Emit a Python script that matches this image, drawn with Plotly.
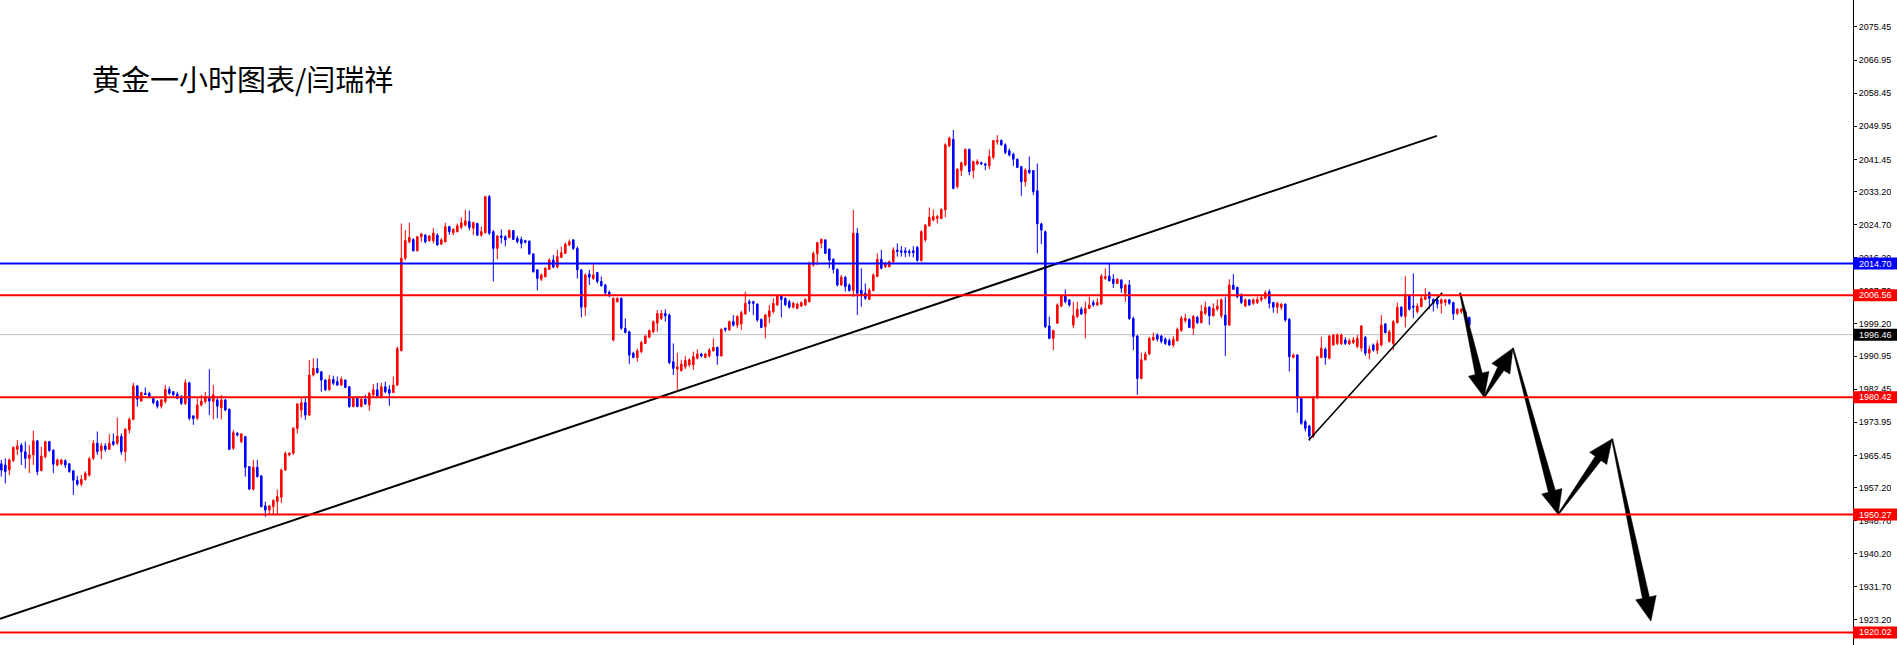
import math
import plotly.graph_objects as go

title_text = "黄金一小时图表/闫瑞祥"

opens = [
    1963.3, 1963.0, 1961.7, 1964.1, 1967.0, 1968.1, 1966.4, 1964.7, 1965.6, 1969.2,
    1961.6, 1965.1, 1969.0, 1966.8, 1963.0, 1963.3, 1964.1, 1963.3, 1961.5, 1959.1,
    1958.1, 1959.3, 1960.4, 1964.7, 1968.6, 1966.7, 1967.9, 1967.0, 1969.0, 1968.6,
    1970.3, 1966.4, 1972.0, 1974.7, 1983.3, 1979.4, 1981.4, 1981.4, 1980.1, 1979.3,
    1978.1, 1979.3, 1982.4, 1981.8, 1981.2, 1980.4, 1978.8, 1984.1, 1975.6, 1975.0,
    1978.4, 1979.3, 1980.1, 1979.3, 1979.7, 1977.7, 1979.7, 1977.3, 1967.3, 1971.1,
    1969.0, 1970.3, 1962.6, 1956.8, 1962.4, 1960.2, 1952.5, 1951.4, 1952.3, 1953.6,
    1954.7, 1961.7, 1965.6, 1966.0, 1972.4, 1977.1, 1979.0, 1975.8, 1986.1, 1987.8,
    1986.9, 1984.8, 1982.3, 1985.0, 1984.4, 1983.5, 1984.8, 1983.1, 1978.0, 1980.1,
    1978.0, 1979.9, 1978.4, 1981.0, 1982.3, 1980.5, 1983.1, 1982.4, 1981.6, 1983.5,
    1992.3, 2016.1, 2020.3, 2020.9, 2018.0, 2021.6, 2022.0, 2020.6, 2020.6, 2022.0,
    2019.7, 2020.3, 2024.2, 2022.6, 2022.9, 2024.0, 2024.6, 2025.5, 2023.8, 2025.0,
    2022.0, 2022.6, 2031.9, 2022.9, 2018.6, 2021.8, 2021.6, 2021.4, 2023.2, 2021.2,
    2020.9, 2020.6, 2020.5, 2017.2, 2013.1, 2010.7, 2011.3, 2013.2, 2015.6, 2013.8,
    2016.3, 2017.3, 2019.5, 2020.8, 2018.6, 2013.1, 2003.5, 2012.0, 2010.9, 2012.4,
    2010.1, 2009.2, 2007.4, 1995.1, 2004.9, 2005.8, 1998.1, 1997.2, 1991.7, 1990.6,
    1992.1, 1994.2, 1995.8, 1997.2, 1999.4, 2000.6, 2001.9, 2001.5, 1989.5, 1987.6,
    1987.2, 1988.2, 1988.7, 1988.7, 1990.4, 1991.5, 1990.6, 1991.0, 1992.3, 1993.2,
    1991.0, 1998.1, 1997.7, 1999.8, 1998.9, 1999.2, 2001.8, 2004.9, 2004.9, 2004.3,
    2000.4, 1998.5, 2001.1, 2002.4, 2004.1, 2006.4, 2005.8, 2004.9, 2003.5, 2003.2,
    2003.8, 2004.1, 2004.9, 2014.3, 2017.2, 2019.9, 2020.8, 2018.4, 2015.8, 2013.2,
    2009.2, 2011.2, 2009.2, 2007.8, 2022.5, 2007.9, 2007.1, 2005.5, 2007.8, 2011.4,
    2015.8, 2013.9, 2013.9, 2015.2, 2018.2, 2018.0, 2018.0, 2017.8, 2018.0, 2018.9,
    2015.5, 2020.8, 2024.4, 2025.9, 2026.3, 2026.3, 2028.5, 2044.9, 2046.6, 2034.5,
    2038.6, 2040.0, 2044.0, 2038.6, 2040.3, 2040.6, 2040.3, 2039.8, 2042.0, 2046.0,
    2046.3, 2045.2, 2043.7, 2042.8, 2041.5, 2039.6, 2035.7, 2038.7, 2038.6, 2033.4,
    2024.9, 2022.9, 1998.7, 1995.5, 1999.4, 2003.8, 2006.4, 2005.4, 1998.9, 2001.1,
    2003.0, 2001.9, 2003.2, 2004.7, 2004.1, 2004.3, 2010.9, 2011.5, 2010.7, 2009.6,
    2010.5, 2007.1, 2009.2, 2000.6, 1996.1, 1985.2, 1990.0, 1991.5, 1995.1, 1996.4,
    1996.1, 1995.3, 1994.9, 1993.8, 1994.9, 1997.5, 2000.1, 2000.4, 1998.1, 2000.9,
    1999.5, 2001.9, 2003.5, 2001.3, 2003.0, 2001.3, 2001.5, 1998.9, 2009.2, 2008.6,
    2006.4, 2003.8, 2005.4, 2004.5, 2004.7, 2005.4, 2005.8, 2007.5, 2004.7, 2003.5,
    2003.5, 2004.3, 2000.4, 1990.6, 1991.2, 1980.1, 1974.1, 1973.0, 1970.4, 1980.4,
    1990.6, 1992.7, 1990.4, 1993.8, 1994.2, 1994.1, 1995.1, 1994.1, 1994.4, 1993.4,
    1993.0, 1995.8, 1991.7, 1993.8, 1992.4, 1993.8, 1999.2, 1994.7, 1994.2, 1999.5,
    2003.5, 2001.1, 2006.4, 2003.8, 2002.4, 2003.7, 2005.5, 2007.2, 2005.5, 2005.4,
    2004.5, 2004.7, 2005.4, 2004.7, 2001.9, 2002.4, 2002.4, 2000.9,
]

highs = [
    1964.3, 1964.7, 1964.7, 1967.8, 1969.4, 1968.6, 1969.0, 1968.1, 1971.8, 1969.4,
    1967.7, 1969.2, 1969.2, 1967.0, 1964.7, 1964.6, 1964.5, 1963.5, 1961.7, 1960.2,
    1960.4, 1961.4, 1965.1, 1969.4, 1971.6, 1968.7, 1968.6, 1970.9, 1971.1, 1975.2,
    1971.1, 1972.4, 1975.2, 1984.1, 1983.5, 1981.8, 1982.9, 1981.8, 1980.3, 1979.7,
    1979.9, 1983.5, 1983.1, 1982.0, 1981.8, 1981.0, 1985.0, 1984.4, 1975.8, 1980.1,
    1981.0, 1981.8, 1987.6, 1983.5, 1980.7, 1981.0, 1980.0, 1977.5, 1972.0, 1971.5,
    1971.1, 1970.4, 1962.7, 1964.3, 1964.3, 1960.4, 1953.6, 1952.7, 1954.2, 1956.7,
    1962.1, 1966.4, 1966.3, 1972.8, 1978.8, 1980.1, 1980.1, 1989.9, 1990.4, 1990.4,
    1987.2, 1985.0, 1986.1, 1985.9, 1985.7, 1985.7, 1985.0, 1983.3, 1980.3, 1980.5,
    1980.1, 1981.0, 1981.8, 1983.8, 1984.1, 1984.1, 1984.4, 1983.5, 1985.7, 1993.4,
    2025.0, 2023.3, 2025.2, 2021.2, 2021.8, 2022.6, 2022.3, 2022.0, 2023.8, 2022.5,
    2021.2, 2025.2, 2024.4, 2023.8, 2025.0, 2026.6, 2028.5, 2028.3, 2025.5, 2025.2,
    2024.2, 2032.1, 2032.3, 2023.3, 2022.0, 2023.5, 2022.0, 2023.5, 2023.3, 2021.8,
    2021.6, 2020.8, 2020.6, 2017.3, 2013.2, 2012.2, 2013.8, 2016.1, 2016.9, 2018.2,
    2019.1, 2020.1, 2020.9, 2020.9, 2019.1, 2013.2, 2012.2, 2013.1, 2014.8, 2012.6,
    2011.4, 2009.5, 2007.8, 2006.0, 2006.0, 2006.0, 2000.6, 1997.5, 1992.1, 1992.9,
    1994.9, 1996.4, 1997.8, 2000.1, 2002.8, 2002.8, 2003.0, 2001.9, 1994.2, 1991.8,
    1990.0, 1991.0, 1990.4, 1992.1, 1992.7, 1991.8, 1991.8, 1993.0, 1995.5, 1993.4,
    1998.1, 1998.3, 2000.1, 2001.5, 2001.5, 2002.6, 2007.5, 2005.5, 2005.2, 2004.5,
    2000.6, 2001.8, 2004.1, 2005.8, 2006.6, 2006.6, 2006.0, 2005.4, 2004.9, 2004.7,
    2005.0, 2005.8, 2015.2, 2017.8, 2020.3, 2021.2, 2020.9, 2018.6, 2016.1, 2013.5,
    2011.8, 2011.5, 2009.6, 2028.5, 2023.8, 2013.5, 2009.6, 2008.4, 2012.2, 2017.3,
    2018.2, 2015.2, 2015.5, 2018.9, 2019.9, 2019.2, 2018.9, 2018.4, 2019.2, 2019.2,
    2023.3, 2024.9, 2029.1, 2028.6, 2027.2, 2028.9, 2045.6, 2047.3, 2049.0, 2039.2,
    2040.9, 2044.3, 2044.3, 2041.1, 2041.5, 2040.9, 2040.6, 2044.0, 2046.4, 2047.7,
    2046.6, 2045.6, 2044.3, 2043.2, 2041.7, 2039.8, 2039.2, 2042.2, 2038.7, 2040.4,
    2025.2, 2023.2, 2001.1, 1997.8, 2004.5, 2006.6, 2008.1, 2005.5, 2004.9, 2004.9,
    2003.6, 2004.9, 2006.2, 2005.4, 2005.8, 2012.0, 2013.5, 2014.8, 2012.0, 2010.9,
    2010.7, 2009.5, 2010.5, 2001.1, 1996.4, 1991.8, 1992.1, 1995.9, 1997.0, 1996.8,
    1996.4, 1995.8, 1995.5, 1996.1, 1998.3, 2001.3, 2001.8, 2000.7, 2001.5, 2001.3,
    2004.1, 2004.9, 2003.8, 2004.5, 2005.5, 2005.8, 2006.2, 2010.7, 2012.0, 2008.8,
    2007.1, 2005.8, 2005.5, 2005.8, 2006.2, 2006.6, 2007.8, 2008.1, 2004.9, 2004.9,
    2004.5, 2004.5, 2000.7, 1991.7, 1991.5, 1980.5, 1974.6, 1973.3, 1980.7, 1991.0,
    1995.9, 1993.2, 1996.4, 1996.6, 1996.8, 1996.8, 1995.8, 1995.5, 1995.8, 1996.4,
    1998.9, 1996.1, 1993.6, 1994.2, 1995.1, 2001.5, 1999.5, 1997.7, 2000.2, 2004.7,
    2003.8, 2011.5, 2006.9, 2012.2, 2004.5, 2006.6, 2008.4, 2007.5, 2005.8, 2006.2,
    2005.8, 2005.5, 2005.5, 2004.9, 2003.2, 2003.2, 2002.6, 2001.1,
]

lows = [
    1960.0, 1958.3, 1960.4, 1963.8, 1965.6, 1963.0, 1962.1, 1960.9, 1963.0, 1960.4,
    1961.3, 1964.7, 1966.4, 1960.9, 1962.6, 1962.9, 1962.2, 1961.0, 1955.3, 1957.6,
    1957.5, 1959.0, 1960.0, 1964.3, 1965.6, 1964.5, 1966.4, 1966.9, 1967.9, 1968.1,
    1965.6, 1963.9, 1971.1, 1974.5, 1978.0, 1979.3, 1981.0, 1980.1, 1978.6, 1977.5,
    1977.5, 1978.8, 1981.0, 1980.8, 1979.9, 1978.4, 1978.4, 1974.5, 1973.3, 1974.5,
    1978.0, 1978.8, 1975.8, 1974.7, 1975.0, 1974.7, 1976.8, 1966.8, 1966.9, 1970.3,
    1968.6, 1960.0, 1956.6, 1956.4, 1959.8, 1952.1, 1949.7, 1950.2, 1950.2, 1950.2,
    1953.2, 1961.5, 1965.2, 1965.6, 1971.1, 1975.2, 1974.6, 1975.6, 1985.7, 1986.5,
    1981.8, 1982.0, 1982.1, 1983.5, 1983.4, 1983.3, 1982.7, 1977.7, 1977.8, 1977.8,
    1977.8, 1978.4, 1976.9, 1980.5, 1980.5, 1980.1, 1981.4, 1978.2, 1981.4, 1983.3,
    1992.3, 2015.6, 2019.9, 2017.8, 2017.8, 2020.3, 2019.9, 2020.3, 2019.9, 2019.3,
    2019.5, 2020.1, 2022.1, 2022.0, 2022.7, 2023.5, 2024.2, 2023.2, 2022.0, 2021.8,
    2021.6, 2022.5, 2022.0, 2010.1, 2015.8, 2019.9, 2019.1, 2021.2, 2020.8, 2019.9,
    2018.6, 2019.9, 2016.9, 2012.4, 2007.8, 2010.2, 2011.2, 2013.1, 2013.5, 2013.5,
    2016.1, 2017.2, 2019.2, 2018.2, 2010.9, 2000.9, 2001.3, 2009.2, 2010.5, 2009.6,
    2008.8, 2006.6, 2006.0, 1994.7, 2004.7, 1997.7, 1996.8, 1988.9, 1990.4, 1989.5,
    1991.7, 1994.1, 1995.5, 1996.8, 1997.2, 2000.2, 1999.8, 1988.9, 1986.1, 1982.3,
    1987.0, 1987.6, 1988.2, 1987.4, 1990.1, 1990.6, 1990.4, 1990.6, 1992.1, 1988.7,
    1990.8, 1997.2, 1997.4, 1998.5, 1998.1, 1997.7, 2001.5, 2002.4, 2001.5, 1999.8,
    1998.1, 1995.5, 1999.4, 2001.9, 2003.8, 2000.9, 2003.8, 2003.2, 2003.2, 2003.0,
    2003.5, 2003.8, 2004.7, 2013.9, 2014.3, 2018.6, 2017.2, 2013.5, 2012.2, 2008.8,
    2009.0, 2007.5, 2007.5, 2006.2, 2001.5, 2003.6, 2005.4, 2005.4, 2007.5, 2011.2,
    2013.2, 2013.5, 2013.7, 2014.9, 2016.5, 2016.5, 2016.3, 2016.5, 2016.3, 2015.2,
    2015.2, 2020.3, 2024.2, 2025.5, 2025.0, 2026.1, 2026.6, 2044.6, 2033.8, 2034.0,
    2037.2, 2039.8, 2037.4, 2036.6, 2040.0, 2040.0, 2038.7, 2038.9, 2041.5, 2045.2,
    2044.9, 2042.8, 2042.2, 2039.8, 2039.2, 2032.1, 2034.5, 2037.7, 2032.3, 2017.3,
    2019.7, 1998.1, 1995.3, 1992.5, 1999.2, 2003.5, 2004.5, 2003.6, 1998.1, 2000.7,
    2001.5, 1995.5, 2003.0, 2003.6, 2003.8, 2004.1, 2010.5, 2010.1, 2008.4, 2009.5,
    2007.2, 2004.9, 2000.2, 1992.5, 1981.0, 1985.0, 1989.8, 1991.2, 1994.9, 1994.7,
    1994.2, 1993.8, 1993.6, 1993.2, 1994.7, 1997.2, 1999.5, 1998.1, 1996.4, 1999.2,
    1999.4, 2001.5, 1998.9, 2001.1, 2002.6, 2000.7, 1991.0, 1998.7, 2007.9, 2005.8,
    2004.3, 2003.5, 2003.8, 2004.1, 2004.3, 2004.9, 2005.5, 2003.2, 2002.1, 2001.9,
    2002.8, 1999.8, 1987.0, 1990.4, 1976.4, 1973.3, 1971.6, 1969.2, 1969.9, 1979.9,
    1990.4, 1988.7, 1990.1, 1993.6, 1993.8, 1993.8, 1993.8, 1993.8, 1994.1, 1993.0,
    1992.1, 1991.0, 1990.1, 1992.1, 1991.5, 1993.4, 1996.8, 1994.4, 1992.5, 1999.4,
    2000.9, 1998.3, 2002.6, 2000.7, 2001.9, 2003.5, 2005.4, 2003.0, 2002.4, 2003.2,
    2001.9, 2003.8, 2004.1, 2000.2, 2001.5, 2001.8, 2001.1, 1998.7,
]

closes = [
    1961.7, 1961.3, 1964.3, 1967.5, 1967.9, 1966.4, 1964.7, 1965.6, 1969.2, 1961.3,
    1965.3, 1969.0, 1966.7, 1963.2, 1964.3, 1964.3, 1963.0, 1961.3, 1959.1, 1958.1,
    1959.3, 1960.9, 1964.6, 1968.6, 1966.4, 1967.9, 1967.0, 1968.6, 1968.3, 1970.4,
    1966.4, 1972.2, 1974.7, 1983.3, 1979.9, 1981.6, 1981.1, 1980.5, 1979.0, 1978.1,
    1979.7, 1982.4, 1981.4, 1981.0, 1980.1, 1978.8, 1984.1, 1975.0, 1974.9, 1978.4,
    1979.4, 1980.4, 1979.4, 1981.0, 1978.1, 1979.7, 1977.1, 1967.0, 1971.3, 1970.7,
    1971.0, 1962.4, 1956.8, 1962.4, 1960.0, 1952.3, 1951.4, 1952.5, 1953.9, 1954.9,
    1961.7, 1966.0, 1966.0, 1972.4, 1978.7, 1979.0, 1975.8, 1986.1, 1987.8, 1986.7,
    1984.8, 1982.3, 1985.0, 1984.0, 1983.5, 1985.0, 1982.9, 1978.0, 1980.1, 1978.0,
    1979.9, 1978.7, 1981.4, 1982.3, 1980.7, 1983.1, 1981.8, 1981.4, 1983.5, 1992.9,
    2016.1, 2020.6, 2021.4, 2018.0, 2021.6, 2022.3, 2020.3, 2021.8, 2022.5, 2019.5,
    2020.8, 2024.2, 2022.9, 2023.5, 2024.4, 2025.2, 2025.7, 2024.0, 2025.2, 2022.0,
    2022.9, 2031.9, 2022.5, 2018.6, 2021.8, 2021.4, 2020.8, 2023.2, 2020.9, 2020.3,
    2019.9, 2020.2, 2017.2, 2012.6, 2010.9, 2011.8, 2013.5, 2015.6, 2013.8, 2016.5,
    2017.5, 2019.7, 2020.3, 2018.6, 2013.1, 2003.5, 2011.8, 2011.2, 2011.8, 2010.1,
    2009.0, 2007.2, 2006.6, 2005.8, 2005.8, 1998.1, 1997.0, 1991.2, 1990.6, 1992.3,
    1994.4, 1996.1, 1997.5, 1999.8, 2001.9, 2001.9, 2001.3, 1989.3, 1987.8, 1988.2,
    1988.9, 1989.8, 1990.0, 1990.8, 1991.5, 1991.0, 1991.5, 1992.5, 1993.2, 1991.0,
    1997.8, 1997.7, 1999.8, 1998.9, 2001.1, 2002.1, 2004.5, 2004.5, 2004.5, 2000.2,
    1998.3, 2001.5, 2002.6, 2004.5, 2006.4, 2005.5, 2004.1, 2003.5, 2004.5, 2004.3,
    2004.7, 2005.5, 2014.8, 2017.3, 2020.1, 2020.9, 2017.3, 2015.6, 2013.2, 2009.2,
    2011.2, 2008.8, 2007.8, 2022.5, 2007.1, 2006.6, 2005.8, 2007.9, 2011.8, 2015.8,
    2013.5, 2014.8, 2015.2, 2018.2, 2017.8, 2017.6, 2017.5, 2017.5, 2017.5, 2015.5,
    2022.9, 2024.6, 2026.6, 2026.8, 2026.8, 2028.6, 2045.2, 2046.9, 2034.0, 2038.9,
    2040.6, 2044.0, 2038.3, 2040.9, 2040.9, 2040.3, 2040.0, 2042.2, 2046.3, 2046.3,
    2045.2, 2043.2, 2042.6, 2041.5, 2039.4, 2035.7, 2038.7, 2038.1, 2033.2, 2024.9,
    2023.3, 1998.5, 1995.5, 1997.5, 2004.1, 2006.4, 2004.9, 2004.1, 2001.3, 2003.0,
    2001.8, 2003.2, 2004.1, 2004.1, 2004.7, 2011.5, 2011.4, 2010.3, 2009.6, 2010.7,
    2008.4, 2009.2, 2000.6, 1996.0, 1985.2, 1990.0, 1991.5, 1995.5, 1995.8, 1995.3,
    1994.7, 1994.2, 1993.8, 1995.3, 1997.8, 2000.7, 2000.7, 1998.3, 2001.1, 1999.5,
    2002.4, 2003.5, 2001.3, 2003.2, 2003.8, 2005.4, 1998.9, 2009.2, 2008.1, 2006.2,
    2004.7, 2005.4, 2004.1, 2005.4, 2005.5, 2006.0, 2007.2, 2004.5, 2003.5, 2004.5,
    2004.3, 2000.2, 1990.8, 1991.2, 1980.1, 1973.7, 1972.4, 1970.4, 1980.5, 1990.8,
    1993.0, 1990.6, 1996.1, 1996.4, 1996.4, 1996.4, 1994.2, 1994.9, 1995.1, 1995.5,
    1998.7, 1991.7, 1992.7, 1992.5, 1994.2, 1998.9, 1997.0, 1997.2, 1999.8, 2003.5,
    2001.3, 2006.6, 2003.0, 2003.5, 2003.8, 2005.8, 2006.2, 2005.8, 2004.5, 2004.3,
    2005.4, 2005.4, 2004.5, 2001.8, 2003.0, 2003.0, 2001.5, 1998.9,
]

tick_values = [2075.45, 2066.95, 2058.45, 2049.95, 2041.45, 2033.20, 2024.70,
               2016.20, 2007.70, 1999.20, 1990.95, 1982.45, 1973.95, 1965.45,
               1957.20, 1948.70, 1940.20, 1931.70, 1923.20]

level_prices = [2014.70, 2006.56, 1980.42, 1950.27, 1920.02]
level_colors = ["#0000ff", "#ff0000", "#ff0000", "#ff0000", "#ff0000"]
bid_price = 1996.46

trend_long_x = [-0.33, 358.9]
trend_long_y = [1923.5, 2047.5]
trend_short_x = [326.9, 360.2]
trend_short_y = [1969.4, 2007.2]

forecast_x = [364.7, 370.7, 377.9, 389.2, 402.7, 412.4]
forecast_y = [2007.2, 1980.4, 1993.0, 1950.3, 1969.7, 1922.9]

# ---------------- layout geometry ----------------
W, H = 1897, 645
MR = 44
X_RANGE = [-0.33, 462.92]
Y_RANGE = [1916.78, 2082.38]
PW, PH = W - MR, H
sx = PW / (X_RANGE[1] - X_RANGE[0])
sy = PH / (Y_RANGE[1] - Y_RANGE[0])


def to_px(xv, yv):
    return (xv - X_RANGE[0]) * sx, (Y_RANGE[1] - yv) * sy


def to_data(px, py):
    return X_RANGE[0] + px / sx, Y_RANGE[1] - py / sy


def arrow_poly(p0, p1, w0=0.6, ws=3.6, hw=10.5, hl=24.0):
    x0, y0 = to_px(*p0)
    x1, y1 = to_px(*p1)
    dx, dy = x1 - x0, y1 - y0
    L = math.hypot(dx, dy)
    ux, uy = dx / L, dy / L
    nx, ny = -uy, ux
    hl = min(hl, 0.42 * L)
    bx, by = x1 - ux * hl, y1 - uy * hl
    pts = [(x0 + nx * w0, y0 + ny * w0), (bx + nx * ws, by + ny * ws),
           (bx + nx * hw, by + ny * hw), (x1, y1),
           (bx - nx * hw, by - ny * hw), (bx - nx * ws, by - ny * ws),
           (x0 - nx * w0, y0 - ny * w0), (x0 + nx * w0, y0 + ny * w0)]
    return [to_data(*p) for p in pts]


fig = go.Figure()

fig.add_trace(go.Candlestick(
    x=list(range(len(closes))), open=opens, high=highs, low=lows, close=closes,
    increasing=dict(line=dict(color="#ff0000", width=1), fillcolor="#ff0000"),
    decreasing=dict(line=dict(color="#0000ff", width=1), fillcolor="#0000ff"),
    whiskerwidth=0, showlegend=False, hoverinfo="skip",
))

fig.add_trace(go.Scatter(x=trend_long_x, y=trend_long_y, mode="lines",
                         line=dict(color="#000000", width=2), showlegend=False,
                         hoverinfo="skip"))
fig.add_trace(go.Scatter(x=trend_short_x, y=trend_short_y, mode="lines",
                         line=dict(color="#000000", width=1.6), showlegend=False,
                         hoverinfo="skip"))

for k in range(len(forecast_x) - 1):
    poly = arrow_poly((forecast_x[k], forecast_y[k]),
                      (forecast_x[k + 1], forecast_y[k + 1]))
    fig.add_trace(go.Scatter(x=[p[0] for p in poly], y=[p[1] for p in poly],
                             mode="lines", fill="toself", fillcolor="#000000",
                             line=dict(color="#000000", width=0.5),
                             showlegend=False, hoverinfo="skip"))

shapes = []
shapes.append(dict(type="line", xref="paper", x0=0, x1=1, yref="y",
                   y0=bid_price, y1=bid_price, layer="below",
                   line=dict(color="#c0c0c0", width=1)))
for p, col in zip(level_prices, level_colors):
    shapes.append(dict(type="line", xref="paper", x0=0, x1=1, yref="y",
                       y0=p, y1=p, line=dict(color=col, width=2)))

label_items = list(zip(level_prices, level_colors)) + [(bid_price, "#000000")]
annotations = []
for p, col in label_items:
    shapes.append(dict(type="rect", xref="paper", xsizemode="pixel", xanchor=1,
                       x0=0, x1=44, yref="y", ysizemode="pixel", yanchor=p,
                       y0=-6, y1=6, fillcolor=col, line=dict(width=0),
                       layer="above"))
    annotations.append(dict(xref="paper", x=1, xanchor="left", xshift=4,
                            yref="y", y=p, yanchor="middle", text=f"{p:.2f}",
                            showarrow=False,
                            font=dict(family="Liberation Sans", size=9,
                                      color="#ffffff")))

annotations.append(dict(xref="paper", x=90 / PW, xanchor="left",
                        yref="paper", y=1 - 77.5 / PH, yanchor="middle",
                        text=title_text, showarrow=False,
                        font=dict(family="Noto Sans CJK SC", size=29,
                                  color="#000000")))

fig.update_layout(
    width=W, height=H, autosize=False,
    margin=dict(l=0, r=MR, t=0, b=0, pad=0),
    paper_bgcolor="#ffffff", plot_bgcolor="#ffffff",
    shapes=shapes, annotations=annotations, showlegend=False,
    boxgap=0.45,
    xaxis=dict(range=X_RANGE, visible=False, rangeslider=dict(visible=False),
               showgrid=False, zeroline=False),
    yaxis=dict(range=Y_RANGE, side="right", showgrid=False, zeroline=False,
               showline=True, linecolor="#000000", linewidth=1,
               ticks="outside", ticklen=3, tickcolor="#000000", tickwidth=1,
               tickvals=tick_values, ticktext=[f"{v:.2f}" for v in tick_values],
               tickfont=dict(family="Liberation Sans", size=9, color="#000000")),
)

fig.write_html("out.html", include_plotlyjs=True, full_html=True,
               config={"displayModeBar": False, "staticPlot": True},
               post_script="document.body.style.margin='0';document.body.style.overflow='hidden';")
